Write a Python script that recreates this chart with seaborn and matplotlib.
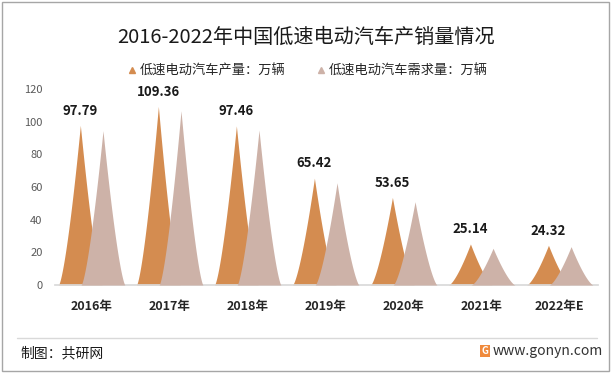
import matplotlib
matplotlib.use("Agg")
import numpy as np
import pandas as pd
import matplotlib.pyplot as plt
from matplotlib.lines import Line2D
from matplotlib.patches import Rectangle
import seaborn as sns

# data
years = ["2016年", "2017年", "2018年", "2019年", "2020年", "2021年", "2022年E"]
production = [97.79, 109.36, 97.46, 65.42, 53.65, 25.14, 24.32]
demand = [94.5, 106.7, 94.9, 62.6, 51.0, 22.5, 23.5]
series = ["低速电动汽车产量：万辆", "低速电动汽车需求量：万辆"]
colors = ["#D48C50", "#CDB2A8"]

sns.set_theme(style="white")
plt.rcParams['font.family'] = ['Noto Sans CJK SC', 'DejaVu Sans']

df = pd.DataFrame({
    "year": years * 2,
    "value": production + demand,
    "series": [series[0]] * len(years) + [series[1]] * len(years),
})

fig = plt.figure(figsize=(6.13, 3.73), dpi=100)
ax = fig.add_axes([55 / 613, 88 / 373, 543 / 613, 196 / 373])
sns.barplot(data=df, x="year", y="value", hue="series", palette=colors,
            saturation=1, width=0.58, gap=0, errorbar=None, legend=False, ax=ax)

# swap every bar for a spike with concave sides
t = np.linspace(-1, 1, 301)
bars = list(ax.patches)
for i, bar in enumerate(bars):
    cx = bar.get_x() + bar.get_width() / 2
    hw = bar.get_width() * 0.97
    h = bar.get_height()
    is_prod = i < len(years)
    ax.fill_between(cx + t * hw, 0, h * (1 - np.abs(t)) ** 1.4,
                    color=bar.get_facecolor(), lw=0, zorder=2 if is_prod else 3)
    bar.set_visible(False)
    if is_prod:
        ax.text(cx, h + 9, f"{h:.2f}", ha="center", va="center",
                fontsize=9.5, fontweight="bold", color="#1a1a1a")

ax.set_xlim(-0.47, 6.49)
ax.set_ylim(0, 120)
ax.set_yticks(range(0, 121, 20))
ax.set_xlabel("")
ax.set_ylabel("")
ax.tick_params(axis="y", length=0, pad=9, labelsize=8, labelcolor="#595959")
ax.tick_params(axis="x", length=0, pad=11, labelsize=9)
for lab in ax.get_xticklabels():
    lab.set_fontweight("bold")
for s in ["left", "top", "right"]:
    ax.spines[s].set_visible(False)
ax.spines["bottom"].set_color("#D9D9D9")

fig.text(0.5, 1 - 37 / 373, "2016-2022年中国低速电动汽车产销量情况",
         ha="center", va="center", fontsize=14.5, color="#1a1a1a")

handles = [Line2D([], [], ls="", marker="^", markersize=5, color=c) for c in colors]
fig.legend(handles, series, loc="center", bbox_to_anchor=(0.5, 1 - 71 / 373),
           ncol=2, frameon=False, fontsize=9.5, handletextpad=0.1,
           columnspacing=2.2, handlelength=1.0)

# footer
fig.add_artist(Line2D([17 / 613, 597 / 613], [1 - 338 / 373] * 2,
                      color="#D9D9D9", lw=1))
fig.text(20 / 613, 1 - 353 / 373, "制图：共研网", ha="left", va="center",
         fontsize=10, color="#1a1a1a")
fig.text(485 / 613, 1 - 351 / 373, "G", ha="center", va="center", fontsize=7,
         color="white", fontweight="bold",
         bbox=dict(boxstyle="square,pad=0.15", fc="#F08A3C", ec="none"))
fig.text(493 / 613, 1 - 351 / 373, "www.gonyn.com", ha="left", va="center",
         fontsize=10, color="#333333")

# outer frame
fig.add_artist(Rectangle((0.004, 0.005), 0.99, 0.99, transform=fig.transFigure,
                         fill=False, ec="#A6A6A6", lw=1))

fig.savefig("out.png", dpi=100)
